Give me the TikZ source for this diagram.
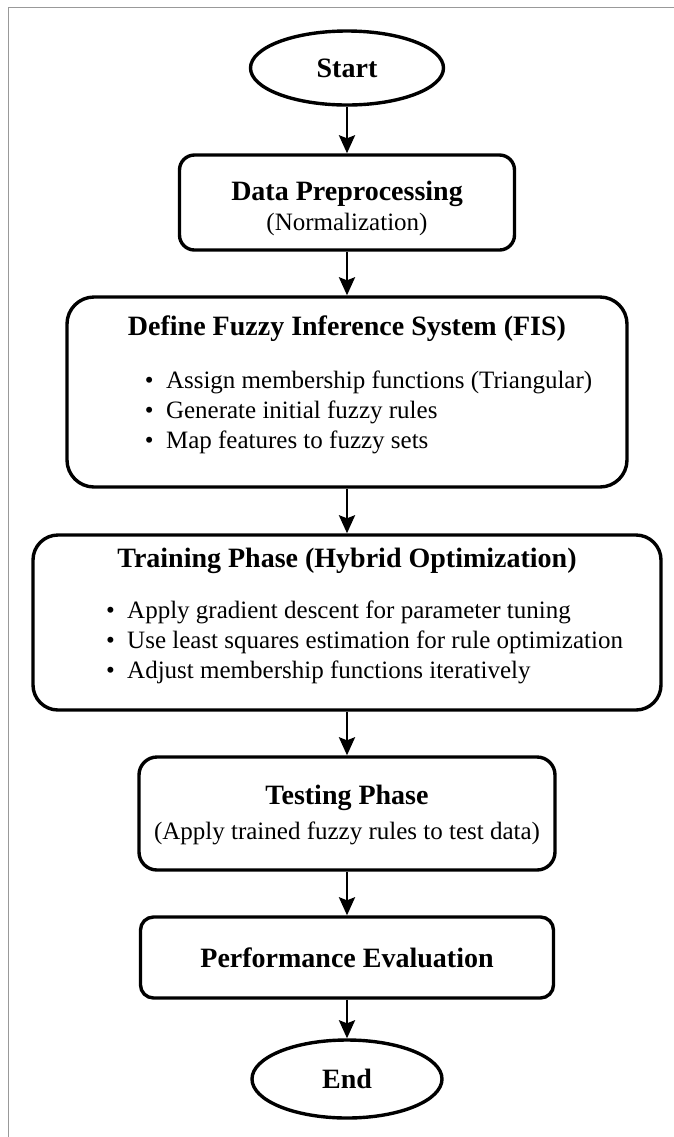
\documentclass[tikz,border=0pt]{standalone}
\usepackage{fontspec}
\setmainfont{Liberation Serif}
\usetikzlibrary{arrows.meta, positioning, shapes.geometric}

\newcommand{\headfont}{\fontsize{14}{17}\selectfont\bfseries}
\newcommand{\bodyfont}{\fontsize{12.5}{15}\selectfont}

\begin{document}
\begin{tikzpicture}
	[
	terminal/.style={ellipse, draw=black, line width=1.7pt, inner sep=0pt, font=\headfont},
	stage/.style={rectangle, draw=black, line width=1.7pt, align=center, inner sep=0pt, font=\bodyfont},
	flow/.style={-{Stealth[length=9pt, width=8pt, inset=1.5pt]}, line width=1.4pt}]
	\useasboundingbox (0,0) rectangle (337pt,-568.5pt);
	% page edge
	\draw[gray!80, line width=0.5pt] (337pt,-3.5pt) -- (4pt,-3.5pt) -- (4pt,-568.5pt);

	\node [terminal, minimum width=96.5pt, minimum height=37pt] (start) at (173.5pt,-34pt) {Start};
	\node [stage, rounded corners=7.5pt, minimum width=167.5pt, minimum height=47.5pt] (preprocess) [below=23.3pt of start]
		{\rule{0pt}{15.5pt}{\headfont Data Preprocessing}\\(Normalization)};
	\node [stage, rounded corners=13.5pt, minimum width=280pt, minimum height=95pt] (fis) [below=21.8pt of preprocess]
		{{\headfont Define Fuzzy Inference System (FIS)}\\[12pt]
		\hspace*{21.5pt}\begin{tabular}{@{}l@{}}
			\textbullet\ \ Assign membership functions (Triangular)\\
			\textbullet\ \ Generate initial fuzzy rules\\
			\textbullet\ \ Map features to fuzzy sets\\[5pt]
		\end{tabular}};
	\node [stage, rounded corners=12.5pt, minimum width=314pt, minimum height=87.5pt] (training) [below=22.3pt of fis]
		{{\headfont Training Phase (Hybrid Optimization)}\\[11pt]
		\hspace*{17.5pt}\begin{tabular}{@{}l@{}}
			\textbullet\ \ Apply gradient descent for parameter tuning\\
			\textbullet\ \ Use least squares estimation for rule optimization\\
			\textbullet\ \ Adjust membership functions iteratively\\[5pt]
		\end{tabular}};
	\node [stage, rounded corners=9pt, minimum width=208pt, minimum height=56.5pt] (testing) [below=21.8pt of training]
		{\rule{0pt}{11.5pt}{\headfont Testing Phase}\\[2.5pt](Apply trained fuzzy rules to test data)};
	\node [stage, rounded corners=6.5pt, minimum width=206.5pt, minimum height=40.5pt, font=\headfont] (evaluation) [below=21.8pt of testing]
		{Performance Evaluation};
	\node [terminal, minimum width=95pt, minimum height=39pt] (end) [below=19.3pt of evaluation] {End};

	\draw [flow] (start) -- (preprocess);
	\draw [flow] (preprocess) -- (fis);
	\draw [flow] (fis) -- (training);
	\draw [flow] (training) -- (testing);
	\draw [flow] (testing) -- (evaluation);
	\draw [flow] (evaluation) -- (end);
\end{tikzpicture}
\end{document}
